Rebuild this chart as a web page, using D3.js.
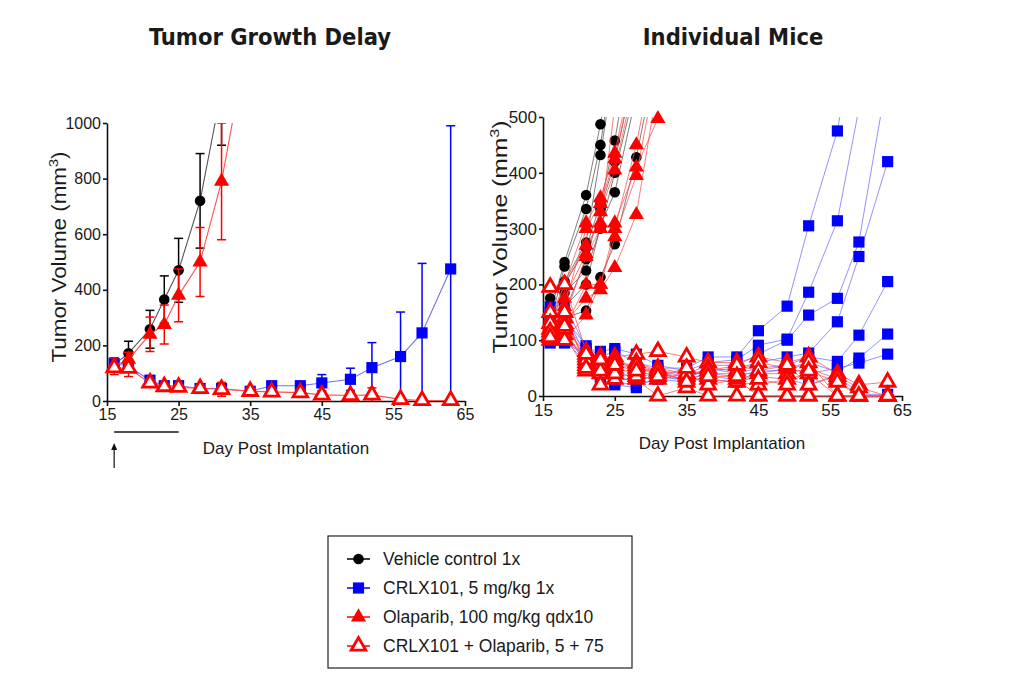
<!DOCTYPE html>
<html>
<head>
<meta charset="utf-8">
<script src="https://cdn.jsdelivr.net/npm/d3@7"></script>
<style>
  body { margin: 0; background: #fff; }
  svg { display: block; }
  text { font-family: "Liberation Sans", Arial, sans-serif; fill: #1a1a1a; }
</style>
</head>
<body>
<div id="chart"></div>
<script>
// measurement days
var days = [16, 18, 21, 23, 25, 28, 31, 35, 38, 42, 45, 49, 52, 56, 59, 63];
var xTicks = [15, 25, 35, 45, 55, 65];
var yTicksLeft = [0, 200, 400, 600, 800, 1000];
var yTicksRight = [0, 100, 200, 300, 400, 500];

// group means +- SEM (left panel)
var vehicleMean = [130, 172, 258, 365, 470, 720, 1120];
var vehicleSem = [15, 43, 68, 85, 115, 170, 200];
var crlxMean = [135, 125, 75, 55, 55, 45, 45, 35, 55, 55, 65, 78, 120, 160, 245, 475];
var crlxSem = [20, 20, 12, 12, 15, 10, 10, 8, 10, 10, 30, 40, 90, 160, 250, 515];
var olaparibMean = [125, 150, 240, 275, 380, 500, 790, 1350];
var olaparibSem = [30, 25, 62, 70, 95, 124, 210, 300];
var comboMean = [120, 118, 65, 52, 50, 45, 42, 35, 33, 30, 22, 20, 22, 6, 2, 2];
var comboSem = [15, 30, 10, 8, 8, 8, 25, 8, 10, 12, 15, 15, 25, 3, 1, 1];

// individual mice (right panel), one row per mouse
var vehicleMice = [
  [150, 240, 360, 487, 650],
  [130, 232, 335, 450, 620],
  [175, 205, 275, 432, 600],
  [120, 200, 265, 345, 458, 680],
  [110, 185, 225, 300, 400, 560],
  [100, 160, 200, 305, 365, 540],
  [115, 140, 153, 213, 272, 428, 620],
  [105, 150, 245, 335, 420, 600]
];
var crlxMice = [
  [150, 140, 90, 70, 80, 60, 50, 50, 70, 70, 117, 161, 305, 475, 700],
  [160, 165, 85, 80, 85, 75, 55, 45, 60, 65, 91, 102, 186, 314, 515],
  [140, 130, 80, 60, 60, 50, 45, 40, 55, 55, 75, 100, 145, 175, 276, 575],
  [130, 150, 70, 45, 40, 35, 40, 35, 45, 50, 60, 70, 77, 133, 250, 420],
  [120, 115, 65, 50, 30, 30, 35, 30, 50, 40, 50, 55, 70, 62, 109, 205],
  [110, 100, 60, 40, 35, 25, 40, 30, 40, 35, 45, 45, 60, 43, 68, 111],
  [100, 95, 75, 35, 25, 20, 30, 25, 35, 30, 40, 50, 40, 50, 59, 75],
  [95, 120, 55, 30, 20, 15, 35, 28, 30, 25, 35, 30, 20, 38, 3, 3]
];
var olaparibMice = [
  [130, 200, 310, 355, 435, 620],
  [120, 160, 300, 345, 425, 600],
  [140, 200, 270, 310, 520],
  [110, 140, 250, 300, 310, 410, 497, 700],
  [100, 120, 200, 200, 285, 395, 600],
  [125, 130, 175, 190, 230, 325, 560],
  [105, 100, 145, 200, 300, 450, 650],
  [135, 175, 255, 330, 405, 580]
];
var comboMice = [
  [195, 200, 80, 70, 70, 75, 80, 70, 60, 60, 70, 60, 70, 40, 20, 25],
  [150, 140, 60, 40, 50, 40, 50, 40, 40, 40, 40, 40, 50, 30, 0, 0],
  [120, 110, 45, 20, 30, 30, 0, 15, 0, 0, 0, 0, 0, 0, 0, 0],
  [100, 120, 55, 50, 45, 60, 45, 35, 50, 45, 60, 50, 60, 0, 0, 0],
  [110, 100, 70, 60, 65, 50, 40, 30, 30, 25, 20, 30, 40, 0, 0, 0],
  [130, 130, 65, 55, 40, 35, 30, 40, 20, 30, 0, 0, 0, 0, 0, 0],
  [115, 150, 50, 45, 60, 55, 45, 25, 45, 55, 45, 55, 20, 35, 15, 0],
  [105, 125, 75, 65, 55, 45, 35, 50, 35, 35, 30, 20, 45, 25, 0, 0]
];

var groups = [
  {name: "Vehicle control 1x", mean: vehicleMean, sem: vehicleSem, mice: vehicleMice,
   sym: d3.symbolCircle, size: 88, color: "#000", line: "#555", open: false},
  {name: "CRLX101, 5 mg/kg 1x", mean: crlxMean, sem: crlxSem, mice: crlxMice,
   sym: d3.symbolSquare, size: 125, color: "#0000ff", line: "#6f6ff5", open: false},
  {name: "Olaparib, 100 mg/kg qdx10", mean: olaparibMean, sem: olaparibSem, mice: olaparibMice,
   sym: d3.symbolTriangle, size: 100, color: "#ff0000", line: "#ff5050", open: false},
  {name: "CRLX101 + Olaparib, 5 + 75", mean: comboMean, sem: comboSem, mice: comboMice,
   sym: d3.symbolTriangle, size: 92, color: "#ff0000", line: "#ff5050", open: true}
];

var svg = d3.select("#chart").append("svg")
    .attr("width", 1034)
    .attr("height", 684);

function pts(vals) {
  return days.map((d, i) => [d, vals[i]]).filter(p => p[1] != null);
}

function drawMarker(g, grp, px, py) {
  g.append("path")
    .attr("d", d3.symbol().type(grp.sym).size(grp.size)())
    .attr("transform", "translate(" + px + "," + py + ")")
    .attr("fill", grp.open ? "#fff" : grp.color)
    .attr("stroke", grp.open ? grp.color : "none")
    .attr("stroke-width", grp.open ? 2.8 : 0);
}

function makePanel(id, xr, yr, ymax, yTicks, fs) {
  var x = d3.scaleLinear().domain([15, 65]).range(xr);
  var y = d3.scaleLinear().domain([0, ymax]).range(yr);

  svg.append("clipPath").attr("id", id)
    .append("rect")
      .attr("x", 0).attr("y", y(ymax))
      .attr("width", 1034).attr("height", 684);

  var xAxis = svg.append("g")
    .attr("transform", "translate(0," + yr[0] + ")")
    .call(d3.axisBottom(x).tickValues(xTicks).tickSize(5).tickSizeOuter(0).tickPadding(3));
  var yAxis = svg.append("g")
    .attr("transform", "translate(" + xr[0] + ",0)")
    .call(d3.axisLeft(y).tickValues(yTicks).tickFormat(d3.format("d"))
      .tickSize(4).tickSizeOuter(0).tickPadding(2));
  [xAxis, yAxis].forEach(a => {
    a.select(".domain").attr("stroke", "#111").attr("stroke-width", 1.6);
    a.selectAll(".tick line").attr("stroke", "#111").attr("stroke-width", 1.6);
    a.selectAll(".tick text").style("font-size", fs + "px").attr("fill", "#1a1a1a");
  });

  var plot = svg.append("g");
  return {x: x, y: y, plot: plot, clip: "url(#" + id + ")"};
}

// ---------- left panel: group means ----------
var L = makePanel("clipL", [107, 465], [401, 123], 1000, yTicksLeft, 16);
groups.forEach(grp => {
  var p = pts(grp.mean);
  L.plot.append("path")
    .datum(p)
    .attr("clip-path", L.clip)
    .attr("fill", "none")
    .attr("stroke", grp.line)
    .attr("stroke-width", 1.1)
    .attr("d", d3.line().x(d => L.x(d[0])).y(d => L.y(d[1])));

  var eb = L.plot.append("g").attr("clip-path", L.clip)
    .attr("stroke", grp.color).attr("stroke-width", 1.5);
  p.forEach((d, i) => {
    var s = grp.sem[i];
    var lo = Math.max(0, d[1] - s), hi = d[1] + s;
    var cx = L.x(d[0]);
    eb.append("line").attr("x1", cx).attr("x2", cx).attr("y1", L.y(lo)).attr("y2", L.y(hi));
    eb.append("line").attr("x1", cx - 4.5).attr("x2", cx + 4.5).attr("y1", L.y(hi)).attr("y2", L.y(hi));
    if (lo > 0) eb.append("line").attr("x1", cx - 4.5).attr("x2", cx + 4.5).attr("y1", L.y(lo)).attr("y2", L.y(lo));
  });
  p.filter(d => d[1] <= 1000).forEach(d => drawMarker(L.plot, grp, L.x(d[0]), L.y(d[1])));
});

// dosing bar and arrow under the left axis
svg.append("line")
  .attr("x1", L.x(16)).attr("x2", L.x(25)).attr("y1", 432).attr("y2", 432)
  .attr("stroke", "#111").attr("stroke-width", 1.3);
svg.append("line")
  .attr("x1", L.x(16)).attr("x2", L.x(16)).attr("y1", 468).attr("y2", 448)
  .attr("stroke", "#111").attr("stroke-width", 1.2);
svg.append("path")
  .attr("d", "M" + L.x(16) + ",443 l-3,7 l6,0 z")
  .attr("fill", "#111");

// ---------- right panel: individual mice ----------
var R = makePanel("clipR", [543, 902], [396, 117], 500, yTicksRight, 17);
groups.forEach(grp => {
  grp.mice.forEach(m => {
    R.plot.append("path")
      .datum(pts(m))
      .attr("clip-path", R.clip)
      .attr("fill", "none")
      .attr("stroke", grp.line)
      .attr("stroke-opacity", 0.75)
      .attr("stroke-width", 1)
      .attr("d", d3.line().x(d => R.x(d[0])).y(d => R.y(d[1])));
  });
  grp.mice.forEach(m => {
    pts(m).filter(d => d[1] <= 500)
      .forEach(d => drawMarker(R.plot, grp, R.x(d[0]), R.y(d[1])));
  });
});

// ---------- titles and axis labels ----------
svg.append("text").attr("x", 270).attr("y", 45)
  .attr("text-anchor", "middle")
  .style("font-family", "'DejaVu Sans Condensed', 'DejaVu Sans', sans-serif")
  .style("font-weight", "bold").style("font-size", "23.5px")
  .attr("fill", "#000")
  .text("Tumor Growth Delay");
svg.append("text").attr("x", 733).attr("y", 45)
  .attr("text-anchor", "middle")
  .style("font-family", "'DejaVu Sans Condensed', 'DejaVu Sans', sans-serif")
  .style("font-weight", "bold").style("font-size", "23.5px")
  .attr("fill", "#000")
  .text("Individual Mice");

function yLabel(tx, ty, len) {
  var t = svg.append("text")
    .attr("transform", "translate(" + tx + "," + ty + ") rotate(-90)")
    .attr("text-anchor", "middle")
    .attr("textLength", len)
    .attr("lengthAdjust", "spacingAndGlyphs")
    .style("font-size", "20px");
  t.append("tspan").text("Tumor  Volume (mm");
  t.append("tspan").attr("dy", -8).style("font-size", "13px").text("3");
  t.append("tspan").attr("dy", 8).text(")");
}
yLabel(66, 257, 211);
yLabel(507, 237, 233);

svg.append("text").attr("x", 286).attr("y", 454)
  .attr("text-anchor", "middle").style("font-size", "17px")
  .text("Day Post Implantation");
svg.append("text").attr("x", 722).attr("y", 449)
  .attr("text-anchor", "middle").style("font-size", "17px")
  .text("Day Post Implantation");

// ---------- legend ----------
var legend = svg.append("g");
legend.append("rect")
  .attr("x", 328).attr("y", 536).attr("width", 304).attr("height", 132)
  .attr("fill", "#fff").attr("stroke", "#222").attr("stroke-width", 1.2);
var legY = [559, 588, 617, 646];
groups.forEach((grp, i) => {
  legend.append("line")
    .attr("x1", 347).attr("x2", 370).attr("y1", legY[i]).attr("y2", legY[i])
    .attr("stroke", grp.color).attr("stroke-width", 1.5);
  drawMarker(legend, grp, 358.5, legY[i]);
  legend.append("text")
    .attr("x", 383).attr("y", legY[i]).attr("dy", "0.35em")
    .style("font-size", "17.5px")
    .text(grp.name);
});
</script>
</body>
</html>
